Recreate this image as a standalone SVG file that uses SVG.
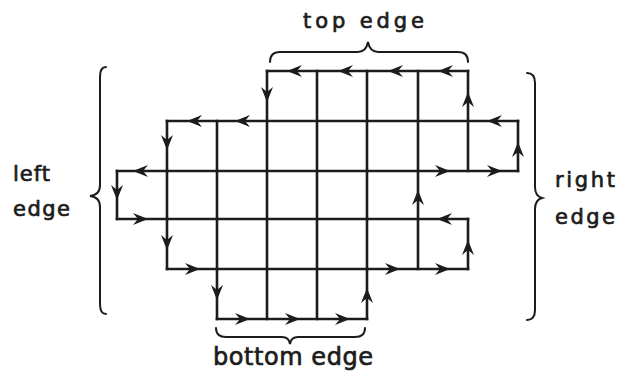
<svg xmlns="http://www.w3.org/2000/svg" xmlns:xlink="http://www.w3.org/1999/xlink" width="619" height="374" viewBox="0 0 619 374">
<style>
.ln{fill:none;stroke:#1c1c1c;stroke-width:2.6;stroke-linecap:square;stroke-linejoin:miter}
.br{fill:none;stroke:#1c1c1c;stroke-width:2;stroke-linecap:round}
.ah{fill:#1c1c1c}
.lb{font-family:"DejaVu Sans","Liberation Sans",sans-serif;fill:#1c1c1c;stroke:#1c1c1c;stroke-width:0.7;font-size:21px}
</style>
<defs>
<path id="ah" class="ah" d="M0,0 L-15,-6 L-10,0 L-15,6 Z"/>
</defs>
<rect width="619" height="374" fill="#ffffff"/>
<g id="connectors">
<path class="ln" d="M267,71 H468 M167,121 H518 M117,171 H518 M117,219 H468 M167,269 H468 M217,319 H367"/>
<path class="ln" d="M117,171 V219 M167,121 V269 M217,121 V319 M267,71 V319 M317,71 V319 M367,71 V319 M418,71 V269 M468,71 V171 M468,219 V269 M518,121 V171"/>
<use href="#ah" transform="translate(287,71) rotate(180)"/>
<use href="#ah" transform="translate(338,71) rotate(180)"/>
<use href="#ah" transform="translate(388,71) rotate(180)"/>
<use href="#ah" transform="translate(438,71) rotate(180)"/>
<use href="#ah" transform="translate(267,102) rotate(90)"/>
<use href="#ah" transform="translate(468,92) rotate(-90)"/>
<use href="#ah" transform="translate(187,121) rotate(180)"/>
<use href="#ah" transform="translate(235,121) rotate(180)"/>
<use href="#ah" transform="translate(487,121) rotate(180)"/>
<use href="#ah" transform="translate(167,150) rotate(90)"/>
<use href="#ah" transform="translate(518,142) rotate(-90)"/>
<use href="#ah" transform="translate(133,171) rotate(180)"/>
<use href="#ah" transform="translate(450,171)"/>
<use href="#ah" transform="translate(502,171)"/>
<use href="#ah" transform="translate(117,200) rotate(90)"/>
<use href="#ah" transform="translate(418,190) rotate(-90)"/>
<use href="#ah" transform="translate(148,219)"/>
<use href="#ah" transform="translate(437,219) rotate(180)"/>
<use href="#ah" transform="translate(167,250) rotate(90)"/>
<use href="#ah" transform="translate(468,240) rotate(-90)"/>
<use href="#ah" transform="translate(200,269)"/>
<use href="#ah" transform="translate(400,269)"/>
<use href="#ah" transform="translate(450,269)"/>
<use href="#ah" transform="translate(217,300) rotate(90)"/>
<use href="#ah" transform="translate(367,288) rotate(-90)"/>
<use href="#ah" transform="translate(250,319)"/>
<use href="#ah" transform="translate(300,319)"/>
<use href="#ah" transform="translate(350,319)"/>
</g>
<g id="top-edge">
<path class="br" d="M270,62 Q270,52 280,52 H358 Q366,52 368,42 Q370,52 378,52 H458 Q468,52 468,62"/>
<text class="lb" x="303" y="28" textLength="121" lengthAdjust="spacing">top edge</text>
</g>
<g id="bottom-edge">
<path class="br" d="M216,328 Q216,337 226,337 H282 Q289,337 290,344 Q291,337 298,337 H355 Q365,337 365,328"/>
<text class="lb" x="213" y="365" style="font-size:24px" textLength="160" lengthAdjust="spacing">bottom edge</text>
</g>
<g id="left-edge">
<path class="br" d="M106,67 Q100,67 100,77 V185 Q100,195 90,196 Q100,197 100,207 V304 Q100,314 106,314"/>
<text class="lb" x="13" y="181" textLength="37" lengthAdjust="spacing">left</text>
<text class="lb" x="13" y="216" textLength="57" lengthAdjust="spacing">edge</text>
</g>
<g id="right-edge">
<path class="br" d="M527,73 Q535,73 535,83 V187 Q535,196 542,198 Q535,200 535,209 V310 Q535,320 527,320"/>
<text class="lb" x="555" y="187" textLength="60" lengthAdjust="spacing">right</text>
<text class="lb" x="555" y="224" textLength="60" lengthAdjust="spacing">edge</text>
</g>
</svg>
